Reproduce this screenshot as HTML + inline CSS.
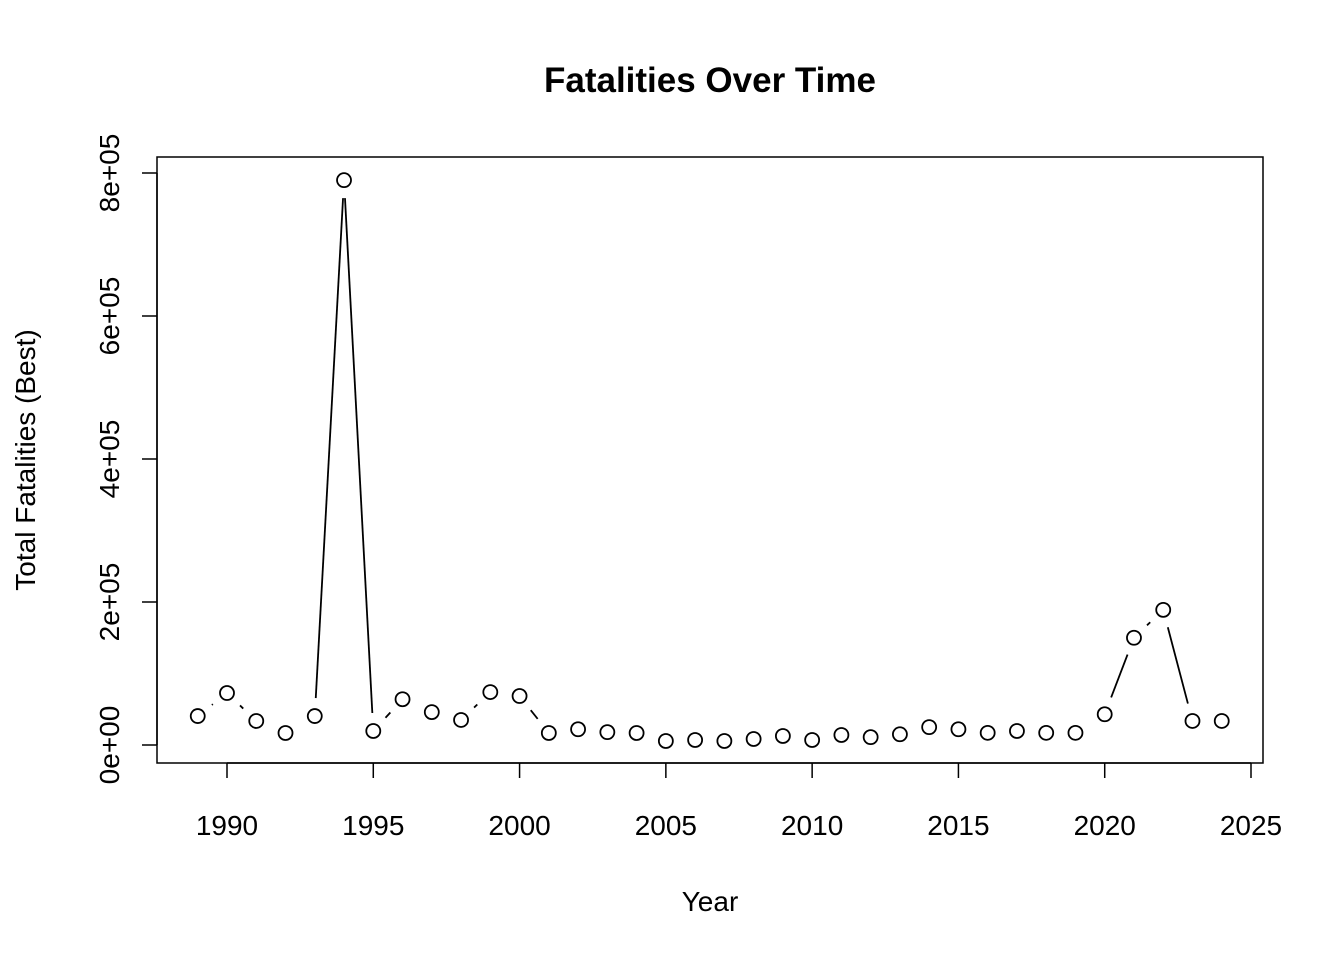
<!DOCTYPE html>
<html><head><meta charset="utf-8"><style>
body{margin:0;background:#fff}
svg text{font-family:"Liberation Sans",Arial,sans-serif;fill:#000}
</style></head><body>
<svg width="1344" height="960" viewBox="0 0 1344 960">
<text x="710" y="92" text-anchor="middle" font-size="35" font-weight="bold">Fatalities Over Time</text>
<rect x="157" y="157" width="1106" height="606" fill="none" stroke="#000" stroke-width="1.5"/>
<g id="axes"></g>
<g id="marks"></g>
<text x="710" y="911" text-anchor="middle" font-size="28">Year</text>
<text transform="translate(35,460) rotate(-90)" text-anchor="middle" font-size="28">Total Fatalities (Best)</text>
</svg>
<script>
const years=[1989,1990,1991,1992,1993,1994,1995,1996,1997,1998,1999,2000,2001,2002,2003,2004,2005,2006,2007,2008,2009,2010,2011,2012,2013,2014,2015,2016,2017,2018,2019,2020,2021,2022,2023,2024];
const fatalities=[40500,72700,33600,16800,40500,790000,19600,64000,46000,35000,74000,68500,16800,22000,18000,16800,5600,7000,5600,8400,12600,7000,14000,11000,15000,25000,22000,17000,19600,17000,17000,43000,150000,189000,33600,33600];
const xTicks=[1990,1995,2000,2005,2010,2015,2020,2025];
const yTicks=[0,200000,400000,600000,800000];
const yTickLabels=["0e+00","2e+05","4e+05","6e+05","8e+05"];
const NS="http://www.w3.org/2000/svg";
const xs=v=>227+(v-1990)*(1024/35);
const ys=v=>745-v*(572/800000);
function mk(t,a,p){const e=document.createElementNS(NS,t);for(const k in a)e.setAttribute(k,a[k]);p.appendChild(e);return e;}
const ax=document.getElementById('axes'),mg=document.getElementById('marks');
let l=mk('line',{x1:xs(xTicks[0]),x2:xs(xTicks[xTicks.length-1]),y1:763,y2:763,stroke:'#000','stroke-width':1.5},ax);


xTicks.forEach(t=>{
 const tk=mk('line',{x1:xs(t),x2:xs(t),y1:763,y2:778,stroke:'#000','stroke-width':1.5},ax);
 
 
 const tx=mk('text',{x:xs(t),y:835,'text-anchor':'middle','font-size':28},ax);tx.textContent=t;
 
 
});
l=mk('line',{x1:157,x2:157,y1:ys(yTicks[0]),y2:ys(yTicks[yTicks.length-1]),stroke:'#000','stroke-width':1.5},ax);


yTicks.forEach((t,i)=>{
 const y=ys(t);
 const tk=mk('line',{x1:142,x2:157,y1:y,y2:y,stroke:'#000','stroke-width':1.5},ax);
 
 
 const tx=mk('text',{transform:`translate(119,${y}) rotate(-90)`,'text-anchor':'middle','font-size':28},ax);tx.textContent=yTickLabels[i];
 
 
});
const gap=18;
for(let i=0;i<years.length-1;i++){
 const x1=xs(years[i]),y1=ys(fatalities[i]),x2=xs(years[i+1]),y2=ys(fatalities[i+1]);
 const d=Math.hypot(x2-x1,y2-y1);if(d<=2*gap)continue;
 const ux=(x2-x1)/d,uy=(y2-y1)/d;
 const s=mk('line',{x1:x1+ux*gap,y1:y1+uy*gap,x2:x2-ux*gap,y2:y2-uy*gap,stroke:'#000','stroke-width':1.8},mg);
 
 
}
years.forEach((yr,i)=>{
 const c=mk('circle',{cx:xs(yr),cy:ys(fatalities[i]),r:7,fill:'none',stroke:'#000','stroke-width':1.8},mg);
 
 
});
</script>
</body></html>
